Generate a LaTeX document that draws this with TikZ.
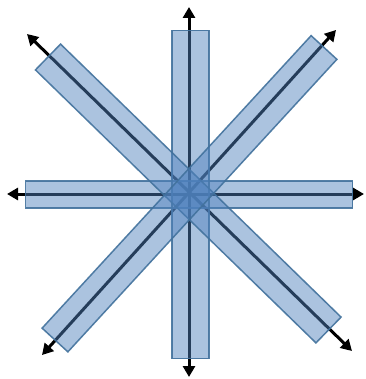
\documentclass[tikz,border=0pt]{standalone}
\usetikzlibrary{calc,arrows.meta}
\definecolor{barfill}{HTML}{4F81BD}
\definecolor{barline}{HTML}{41719C}
\tikzset{
  axisline/.style={line width=3pt, black, {Triangle[length=11pt,width=12pt]}-{Triangle[length=11pt,width=12pt]}},
  barshape/.style={fill=barfill, fill opacity=0.48, draw=barline, draw opacity=0.9, line width=1.5pt, line join=miter}
}
\newcommand{\mybar}[3]{% A, B, half width
  \draw[barshape] ($(#1)!#3!90:(#2)$) -- ($(#1)!#3!-90:(#2)$) -- ($(#2)!#3!90:(#1)$) -- ($(#2)!#3!-90:(#1)$) -- cycle;}
\begin{document}
\begin{tikzpicture}[x=1pt,y=-1pt]
\useasboundingbox (0,0) rectangle (365,379);
% arrow tip coordinates
\coordinate (vt) at (189,7);
\coordinate (vb) at (189,377);
\coordinate (hl) at (7,194);
\coordinate (hr) at (364,194);
\coordinate (d1a) at (27,34);
\coordinate (d1b) at (352,351);
\coordinate (d2a) at (336,30);
\coordinate (d2b) at (42,355);
% bar ends
\coordinate (bvt) at (190.5,30.5);
\coordinate (bvb) at (190.5,358.5);
\coordinate (bhl) at (25.5,194.5);
\coordinate (bhr) at (352.5,194.5);
\coordinate (b1a) at (48,57);
\coordinate (b1b) at (328.5,330);
\coordinate (b2a) at (324,47.5);
\coordinate (b2b) at (55,340);
% lines
\draw[axisline] (vt) -- (vb);
\draw[axisline] (hl) -- (hr);
\draw[axisline] (d1a) -- (d1b);
\draw[axisline] (d2a) -- (d2b);
% bars
\mybar{bhl}{bhr}{13.5pt}
\mybar{bvt}{bvb}{18.5pt}
\mybar{b1a}{b1b}{18pt}
\mybar{b2a}{b2b}{17.5pt}
\end{tikzpicture}
\end{document}
